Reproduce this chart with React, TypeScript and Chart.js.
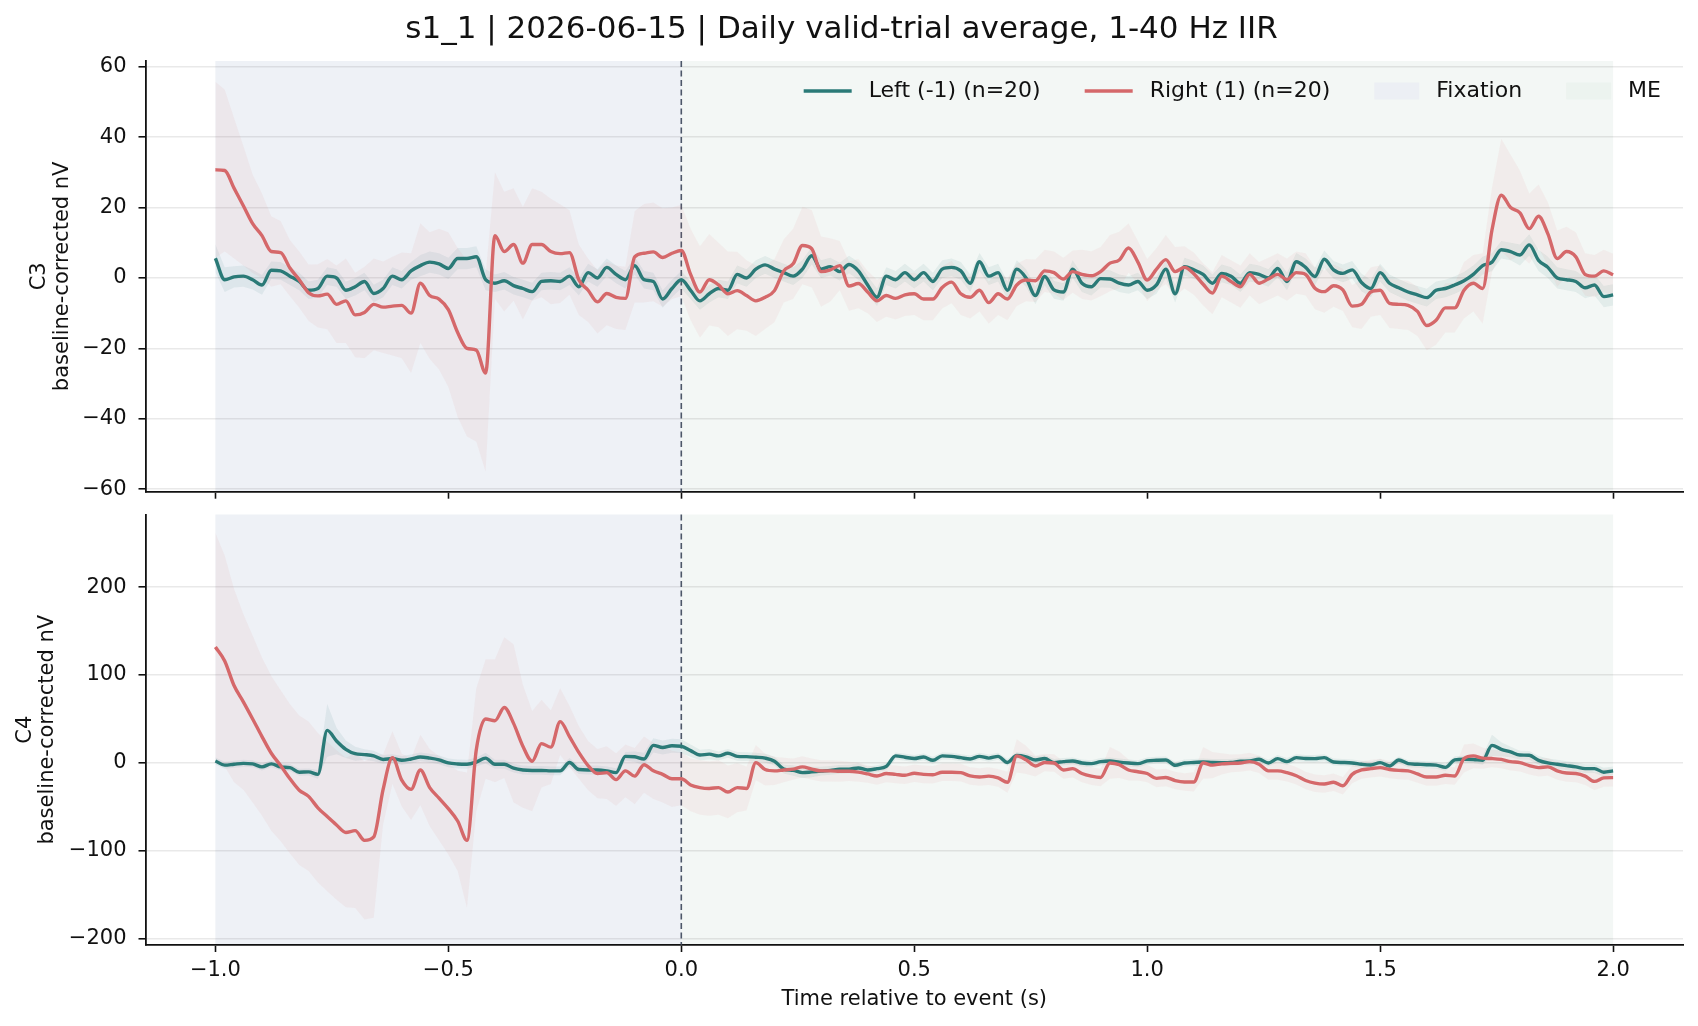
import React, { useEffect, useRef } from 'react';
import { Chart, registerables } from 'chart.js';

Chart.register(...registerables);

const TITLE = 's1_1 | 2026-06-15 | Daily valid-trial average, 1-40 Hz IIR';
const X_LABEL = 'Time relative to event (s)';
const LEFT_LABEL = 'Left (-1) (n=20)';
const RIGHT_LABEL = 'Right (1) (n=20)';
const C3_TITLE = ['C3', 'baseline-corrected nV'];
const C4_TITLE = ['C4', 'baseline-corrected nV'];

const TIMES = [
  -1, -0.98, -0.96, -0.94, -0.92, -0.9, -0.88, -0.86, -0.84, -0.82,
  -0.8, -0.78, -0.76, -0.74, -0.72, -0.7, -0.68, -0.66, -0.64, -0.62,
  -0.6, -0.58, -0.56, -0.54, -0.52, -0.5, -0.48, -0.46, -0.44, -0.42,
  -0.4, -0.38, -0.36, -0.34, -0.32, -0.3, -0.28, -0.26, -0.24, -0.22,
  -0.2, -0.18, -0.16, -0.14, -0.12, -0.1, -0.08, -0.06, -0.04, -0.02,
  0, 0.02, 0.04, 0.06, 0.08, 0.1, 0.12, 0.14, 0.16, 0.18,
  0.2, 0.22, 0.24, 0.26, 0.28, 0.3, 0.32, 0.34, 0.36, 0.38,
  0.4, 0.42, 0.44, 0.46, 0.48, 0.5, 0.52, 0.54, 0.56, 0.58,
  0.6, 0.62, 0.64, 0.66, 0.68, 0.7, 0.72, 0.74, 0.76, 0.78,
  0.8, 0.82, 0.84, 0.86, 0.88, 0.9, 0.92, 0.94, 0.96, 0.98,
  1, 1.02, 1.04, 1.06, 1.08, 1.1, 1.12, 1.14, 1.16, 1.18,
  1.2, 1.22, 1.24, 1.26, 1.28, 1.3, 1.32, 1.34, 1.36, 1.38,
  1.4, 1.42, 1.44, 1.46, 1.48, 1.5, 1.52, 1.54, 1.56, 1.58,
  1.6, 1.62, 1.64, 1.66, 1.68, 1.7, 1.72, 1.74, 1.76, 1.78,
  1.8, 1.82, 1.84, 1.86, 1.88, 1.9, 1.92, 1.94, 1.96, 1.98,
  2,
];

const X_TICKS = [-1, -0.5, 0, 0.5, 1, 1.5, 2];
const C3_TICKS = [-60, -40, -20, 0, 20, 40, 60];
const C4_TICKS = [-200, -100, 0, 100, 200];

// C3 — Left (-1) mean and SEM
const C3_LEFT = [
  5.6, -0.5, 0.3, 0.5, -0.5, -2.0, 2.2, 2.0, 0.5, -1.0,
  -3.5, -3.0, 0.5, 0.0, -3.5, -2.5, -1.0, -4.4, -3.0, 0.5,
  -0.5, 2.0, 3.5, 4.5, 4.0, 2.7, 5.5, 5.5, 6.0, -0.5,
  -1.5, -0.8, -2.2, -3.0, -3.9, -1.0, -0.8, -1.0, 0.5, -2.5,
  1.5, 0.0, 3.0, 1.0, -0.5, 3.5, -0.5, -1.0, -6.0, -3.0,
  -0.5,
  -3.5, -6.5, -4.5, -3.0, -3.5, 1.0, 0.0, 2.5, 3.7, 2.5,
  1.5, 0.5, 2.5, 6.3, 2.5, 3.2, 1.8, 3.8, 2.0, -2.0,
  -5.5, 0.5, -0.5, 1.5, -0.5, 1.5, -1.0, 2.5, 3.0, 2.0,
  -1.5, 4.6, 0.5, 1.5, -3.5, 2.5, 0.0, -5.0, 0.4, -3.4,
  -4.0, 2.5, -1.5, -2.5, -0.2, -0.3, -1.5, -2.0, -1.0, -3.5,
  -2.0, 2.5, -4.5, 3.2, 2.3, 1.0, -1.5, 1.3, 0.5, -1.5,
  1.5, 1.0, 0.0, 2.7, -1.0, 4.6, 3.0, 0.4, 5.3, 2.3,
  1.3, 2.3, -1.3, -3.0, 1.5, -1.5, -2.8, -4.0, -4.8, -5.6,
  -3.5, -3.0, -2.0, -0.8, 1.0, 3.5, 4.5, 8.0, 7.5, 6.5,
  9.4, 5.0, 3.0, 0.0, -0.5, -1.0, -2.8, -2.0, -5.3, -4.8,
];
const C3_LEFT_SEM = [
  4, 3.5, 3, 3, 2.8, 2.8, 2.5, 2.5, 2.5, 2.5,
  2.5, 2.5, 2.5, 2.5, 2.5, 2.5, 2.5, 2.5, 2.5, 2.5,
  2.5, 2.5, 3, 3, 3, 3, 3, 3, 3, 3,
  2.5, 2.5, 2.5, 2.5, 2.5, 2.5, 2.5, 2.5, 2.5, 2.5,
  2.5, 2.5, 2.5, 2.5, 2.5, 2.5, 2.5, 2.5, 2.5, 2.5,
  2.5, 2.5, 2.5, 2.5, 2.5, 2.5, 2.5, 2.5, 2.5, 2.5,
  2.5, 2.5, 2.5, 2.5, 2.5, 2.5, 2.5, 2.5, 2.5, 2.5,
  2.5, 2.5, 2.5, 2.5, 2.5, 2.5, 2.5, 2.5, 2.5, 2.5,
  2.5, 2.5, 2.5, 2.5, 2.5, 2.5, 2.5, 2.5, 2.5, 2.5,
  2.5, 2.5, 2.5, 2.5, 2.5, 2.5, 2.5, 2.5, 2.5, 2.5,
  2.5, 2.5, 2.5, 2.5, 2.5, 2.5, 2.5, 2.5, 2.5, 2.5,
  2.5, 2.5, 2.5, 2.5, 2.5, 2.5, 2.5, 2.5, 2.5, 2.5,
  2.5, 2.5, 2.5, 2.5, 2.5, 2.5, 2.5, 2.5, 2.5, 2.5,
  2.5, 2.5, 2.5, 2.5, 2.5, 2.5, 2.5, 2.5, 2.5, 2.5,
  3, 3, 3, 3, 3, 3, 3, 3, 3, 3,
  3,
];

// C3 — Right (1) mean and SEM
const C3_RIGHT = [
  30.7, 30.5, 25.5, 20.5, 15.4, 12.0, 7.5, 7.2, 2.8, -0.5,
  -4.2, -5.1, -4.6, -7.5, -6.5, -10.5, -9.8, -7.5, -8.3, -8.0,
  -7.8, -10.0, -1.5, -5.0, -6.0, -9.0, -15.5, -20.0, -20.5, -27.0,
  12.0, 7.5, 9.5, 4.2, 9.5, 9.5, 7.5, 6.9, 7.2, -0.5,
  -3.5, -6.8, -4.4, -5.5, -5.8, 6.0, 7.0, 7.4, 5.8, 7.0,
  7.8,
  1.0, -4.0, -0.5, -2.0, -4.5, -3.6, -5.0, -6.5, -5.5, -3.6,
  2.0, 4.0, 9.2, 8.3, 1.8, 2.3, 3.5, -2.3, -1.6, -4.0,
  -6.5, -5.0, -5.8, -4.8, -4.5, -6.0, -6.0, -2.7, -1.2, -4.5,
  -5.5, -3.5, -7.0, -4.5, -6.0, -2.0, -0.6, -0.8, 2.0, 1.5,
  -0.3, 1.8, 1.0, 0.6, 1.8, 4.2, 5.1, 8.5, 4.5, -0.6,
  2.5, 5.2, 1.8, 3.0, 1.2, -1.8, -4.3, 0.5, -1.0, -2.5,
  1.0, -1.5, -0.3, 1.0, -0.5, 1.5, 1.0, -2.9, -3.9, -2.2,
  -3.4, -8.0, -7.5, -4.0, -3.5, -7.2, -7.5, -7.8, -9.5, -13.5,
  -12.0, -8.5, -8.5, -3.5, -1.5, -3.0, 13.6, 23.5, 20.0, 18.5,
  14.0, 17.5, 12.5, 5.5, 7.5, 6.0, 1.0, 0.5, 2.0, 0.9,
];
const C3_RIGHT_SEM = [
  25, 23, 20, 17, 14, 12, 10, 9, 8, 8,
  8, 9, 10, 11, 12, 12, 13, 13, 13, 14,
  15, 17, 17, 18, 20, 22, 24, 25, 26, 28,
  18, 17, 16, 16, 16, 15, 15, 14, 12, 10,
  9, 9, 9, 9, 9, 13, 14, 14, 14, 13,
  13, 13, 13, 13, 12, 12, 11, 10, 10, 9,
  9, 9, 10, 11, 11, 10, 9, 7, 7, 7,
  6, 6, 6, 6, 6, 6, 6, 6, 6, 6,
  6, 6, 6, 6, 6, 6, 6, 6, 6, 6,
  6, 6, 6, 7, 7, 7, 8, 8, 7, 6,
  6, 6, 7, 7, 6, 6, 6, 6, 6, 6,
  6, 6, 6, 6, 6, 6, 6, 6, 6, 6,
  6, 6, 6, 7, 7, 7, 7, 7, 7, 7,
  7, 7, 7, 7, 8, 8, 10, 12, 16, 15,
  12, 10, 9, 9, 8, 7, 7, 6, 6, 6,
  6,
];

// C4 — Left (-1) mean and SEM
const C4_LEFT = [
  2.3, -2.5, -1.5, -0.5, -1.0, -4.5, -1.0, -4.5, -5.3, -10.5,
  -10.2, -13.0, 37.0, 25.0, 15.5, 10.5, 9.5, 8.0, 4.0, 5.0,
  3.0, 4.5, 6.8, 5.5, 3.5, 0.0, -1.2, -1.5, 1.0, 5.5,
  -1.5, -1.5, -6.0, -8.0, -8.5, -8.5, -9.0, -9.0, 0.5, -7.5,
  -8.0, -8.0, -9.0, -11.0, 7.5, 7.0, 4.5, 20.0, 17.5, 19.5,
  19.0,
  14.0, 9.0, 10.0, 8.0, 11.0, 7.5, 7.2, 6.5, 5.5, 2.0,
  -7.0, -8.5, -11.0, -10.2, -9.3, -8.5, -7.2, -7.0, -5.7, -8.0,
  -6.5, -4.0, 8.0, 6.5, 5.0, 6.8, 3.0, 8.0, 7.5, 6.0,
  4.5, 7.5, 5.5, 7.5, 0.5, 8.5, 7.0, 3.4, 5.0, 0.4,
  1.5, 2.3, 0.0, -0.8, 1.5, 2.3, 1.0, 0.0, -0.8, 2.3,
  3.0, 3.4, -2.7, 0.0, 0.5, 1.0, 0.5, 0.4, 0.6, 2.0,
  2.3, 4.2, 0.0, 4.9, 1.5, 6.0, 5.0, 4.9, 6.0, 1.1,
  0.5, 0.0, -1.5, -2.3, 0.4, -3.4, 3.4, -0.8, -1.5, -2.0,
  -2.5, -5.0, 3.5, 4.2, 4.0, 3.0, 20.0, 15.5, 12.5, 9.0,
  8.7, 3.0, 0.0, -1.5, -3.0, -4.5, -6.4, -6.4, -10.5, -9.0,
];
const C4_LEFT_SEM = [
  4, 4, 4, 4, 4, 4, 4, 4, 4, 4,
  4, 5, 30, 15, 10, 8, 6, 6, 5, 5,
  5, 5, 5, 5, 5, 5, 5, 5, 5, 6,
  5, 5, 5, 5, 5, 5, 5, 5, 5, 5,
  5, 5, 5, 5, 5, 6, 7, 8, 8, 8,
  8, 7, 6, 6, 5, 5, 5, 5, 5, 5,
  5, 5, 6, 6, 6, 5, 5, 5, 5, 5,
  4, 4, 4, 4, 4, 4, 4, 4, 4, 4,
  4, 4, 4, 4, 4, 4, 4, 4, 4, 4,
  4, 4, 4, 4, 4, 4, 4, 4, 4, 4,
  4, 4, 4, 4, 4, 4, 4, 4, 4, 4,
  4, 4, 4, 4, 4, 4, 4, 4, 4, 4,
  4, 4, 4, 4, 4, 4, 4, 4, 4, 4,
  4, 4, 4, 4, 4, 4, 5, 12, 8, 6,
  5, 5, 5, 5, 5, 5, 5, 5, 5, 5,
  5,
];

// C4 — Right (1) mean and SEM
const C4_RIGHT = [
  131.8, 116, 88, 69.5, 50, 30, 11, -3, -18, -31,
  -38, -51, -61, -70.5, -79, -77, -88, -84, -30, 6,
  -19.5, -30, -8, -28, -40, -52, -66, -88, 15, 50,
  48, 63, 45, 19, 2, 22, 18, 47, 30, 12,
  -3, -12, -11, -19, -9, -15, -2, -9, -13, -18,
  -18,
  -25, -28, -29, -28, -33, -28, -29, 0.4, -7.5, -9,
  -8, -7, -4.5, -7, -9, -9, -9.5, -9.5, -10.5, -12.5,
  -14.8, -12, -13, -14, -11.7, -13, -13.5, -10.5, -10.5, -11,
  -14.8, -16, -15, -17, -22, 8, 3.5, -3.4, 0.5, 0,
  -8, -6.5, -12, -15, -16.5, 0, -2, -8, -10, -12,
  -17.5, -16.5, -20, -21.6, -21.6, 0, -2.5, -1, -0.5, 0,
  1.5, -1.5, -9, -9, -11, -14.5, -20, -23, -24, -22,
  -26, -13, -8, -6.5, -5.3, -7.5, -8.5, -9, -12.5, -16,
  -16, -14, -14.8, 5, 8, 5.5, 5, 4, 1.5, 0.4,
  -3, -5.3, -4.5, -9, -11.5, -12, -15, -21, -17, -16.7,
];
const C4_RIGHT_SEM = [
  130, 120, 110, 100, 95, 90, 88, 86, 85, 85,
  85, 85, 85, 85, 85, 88, 90, 92, 40, 30,
  30, 35, 40, 44, 48, 52, 57, 77, 70, 68,
  70, 80, 90, 70, 57, 50, 42, 38, 35, 30,
  28, 28, 30, 30, 30, 32, 32, 32, 32, 32,
  30, 30, 31, 31, 31, 30, 28, 25, 20, 18,
  16, 14, 12, 12, 12, 12, 12, 12, 11, 11,
  10, 10, 10, 10, 10, 10, 10, 10, 10, 10,
  10, 10, 10, 10, 10, 12, 19, 16, 12, 10,
  10, 10, 10, 10, 10, 10, 18, 15, 12, 10,
  10, 10, 10, 10, 10, 11, 18, 15, 12, 10,
  10, 10, 10, 10, 10, 10, 10, 10, 10, 10,
  10, 10, 10, 10, 10, 10, 10, 10, 10, 10,
  10, 10, 10, 10, 16, 14, 12, 10, 10, 10,
  10, 10, 10, 10, 10, 10, 10, 10, 10, 10,
  10,
];

const WINDOWS = [
  { label: 'Fixation', start: -1, end: 0, color: 'rgba(100,130,170,0.11)', legendColor: '#eceff4' },
  { label: 'ME', start: 0, end: 2, color: 'rgba(120,170,140,0.09)', legendColor: '#ecf3ef' },
];
const EVENT_T = 0;

const X_RANGE = [-1.15, 2.15];
const C3_RANGE = [-60.7, 61.6];
const C4_RANGE = [-207, 282.5];

const TEAL = '#2a7a77';
const RED = '#d5686a';
const TEAL_BAND = 'rgba(42,122,119,0.09)';
const RED_BAND = 'rgba(213,104,106,0.07)';
const INK = '#111111';
const FONT = "'DejaVu Sans', sans-serif";
const FS = 21;
const LEGEND_FS = 22;
const LINE_W = 3.4;

const fmtSigned = (v: number, d: number) => (v < 0 ? '\u2212' : '') + Math.abs(v).toFixed(d);

const shadePlugin = {
  id: 'shadeWindows',
  beforeDraw(chart: any) {
    const { ctx, chartArea: a, scales } = chart;
    const xs = scales.x;
    ctx.save();
    WINDOWS.forEach((w) => {
      const x0 = xs.getPixelForValue(w.start);
      const x1 = xs.getPixelForValue(w.end);
      ctx.fillStyle = w.color;
      ctx.fillRect(x0, a.top, x1 - x0, a.bottom - a.top);
    });
    ctx.restore();
  },
  beforeDatasetsDraw(chart: any) {
    const { ctx, chartArea: a, scales } = chart;
    const px = scales.x.getPixelForValue(EVENT_T);
    ctx.save();
    ctx.strokeStyle = 'rgba(60,70,90,0.9)';
    ctx.lineWidth = 1.6;
    ctx.setLineDash([6, 3.5]);
    ctx.beginPath();
    ctx.moveTo(px, a.top);
    ctx.lineTo(px, a.bottom);
    ctx.stroke();
    ctx.restore();
  },
};

const legendPlugin = {
  id: 'mplLegend',
  afterDraw(chart: any, _args: any, opts: any) {
    if (!opts || !opts.show) return;
    const { ctx, chartArea: a } = chart;
    const items = [
      { label: LEFT_LABEL, color: TEAL, kind: 'line' },
      { label: RIGHT_LABEL, color: RED, kind: 'line' },
      ...WINDOWS.map((w) => ({ label: w.label, color: w.legendColor, kind: 'patch' })),
    ];
    ctx.save();
    ctx.font = `${LEGEND_FS}px ${FONT}`;
    ctx.textBaseline = 'middle';
    ctx.textAlign = 'left';
    const handleLen = (k: string) => (k === 'line' ? 48 : 45);
    const gap = 17;
    const col = 44;
    const widths = items.map((it) => handleLen(it.kind) + gap + ctx.measureText(it.label).width);
    const total = widths.reduce((s, w) => s + w, 0) + col * (items.length - 1);
    let x = a.right - 22 - total;
    const y = a.top + 30;
    items.forEach((it, i) => {
      const hl = handleLen(it.kind);
      if (it.kind === 'line') {
        ctx.strokeStyle = it.color;
        ctx.lineWidth = LINE_W;
        ctx.beginPath();
        ctx.moveTo(x, y);
        ctx.lineTo(x + hl, y);
        ctx.stroke();
      } else {
        ctx.fillStyle = it.color;
        ctx.fillRect(x, y - 8.5, hl, 17);
      }
      ctx.fillStyle = INK;
      ctx.fillText(it.label, x + hl + gap, y);
      x += widths[i] + col;
    });
    ctx.restore();
  },
};

function buildDatasets(left: number[], leftSem: number[], right: number[], rightSem: number[]) {
  const pts = (vals: number[]) => TIMES.map((t, i) => ({ x: t, y: vals[i] }));
  const lo = (m: number[], s: number[]) => m.map((v, i) => v - s[i]);
  const hi = (m: number[], s: number[]) => m.map((v, i) => v + s[i]);
  const band = (vals: number[], order: number, fill: any, color: string) => ({
    data: pts(vals),
    borderColor: 'rgba(0,0,0,0)',
    borderWidth: 0,
    pointRadius: 0,
    fill,
    backgroundColor: color,
    order,
    tension: 0,
  });
  const line = (label: string, vals: number[], color: string, order: number) => ({
    label,
    data: pts(vals),
    borderColor: color,
    backgroundColor: color,
    borderWidth: LINE_W,
    pointRadius: 0,
    fill: false,
    order,
    cubicInterpolationMode: 'monotone',
  });
  return [
    band(lo(left, leftSem), 5, false, 'rgba(0,0,0,0)'),
    band(hi(left, leftSem), 5, 0, TEAL_BAND),
    band(lo(right, rightSem), 4, false, 'rgba(0,0,0,0)'),
    band(hi(right, rightSem), 4, 2, RED_BAND),
    line(LEFT_LABEL, left, TEAL, 1),
    line(RIGHT_LABEL, right, RED, 0),
  ];
}

function yScale(range: number[], ticks: number[], title: string[], titlePadTop: number) {
  return {
    type: 'linear',
    min: range[0],
    max: range[1],
    afterBuildTicks: (s: any) => {
      s.ticks = ticks.map((v) => ({ value: v }));
    },
    afterFit: (s: any) => {
      s.width = 145.5;
      s.paddingTop = 0;
      s.paddingBottom = 0;
    },
    ticks: {
      font: { family: FONT, size: FS },
      color: INK,
      padding: 12,
      callback: (v: any) => fmtSigned(Number(v), 0),
    },
    grid: {
      color: 'rgba(0,0,0,0.085)',
      lineWidth: 1.6,
      drawTicks: true,
      tickLength: 7,
      tickWidth: 1.6,
      tickColor: INK,
    },
    border: { display: true, color: INK, width: 1.8 },
    title: {
      display: true,
      text: title,
      color: INK,
      font: { family: FONT, size: FS, lineHeight: 1.07 },
      padding: { top: titlePadTop, bottom: 0 },
    },
  };
}

function xScale(showLabels: boolean, height: number) {
  return {
    type: 'linear',
    min: X_RANGE[0],
    max: X_RANGE[1],
    afterBuildTicks: (s: any) => {
      s.ticks = X_TICKS.map((v) => ({ value: v }));
    },
    afterFit: (s: any) => {
      s.height = height;
      s.paddingLeft = 0;
      s.paddingRight = 0;
    },
    ticks: {
      display: showLabels,
      font: { family: FONT, size: FS },
      color: INK,
      padding: 5.5,
      maxRotation: 0,
      autoSkip: false,
      callback: (v: any) => fmtSigned(Number(v), 1),
    },
    grid: {
      display: true,
      drawOnChartArea: false,
      drawTicks: true,
      tickLength: 7,
      tickWidth: 1.6,
      tickColor: INK,
      color: INK,
    },
    border: { display: true, color: INK, width: 1.8 },
    title: {
      display: showLabels,
      text: X_LABEL,
      color: INK,
      font: { family: FONT, size: FS, lineHeight: 1.2 },
      padding: { top: 0, bottom: 13.5 },
    },
  };
}

export default function App() {
  const topRef = useRef<HTMLCanvasElement | null>(null);
  const botRef = useRef<HTMLCanvasElement | null>(null);

  useEffect(() => {
    if (!topRef.current || !botRef.current) return;
    const top = new Chart(topRef.current, {
      type: 'line',
      data: { datasets: buildDatasets(C3_LEFT, C3_LEFT_SEM, C3_RIGHT, C3_RIGHT_SEM) as any },
      options: {
        animation: false,
        responsive: false,
        maintainAspectRatio: false,
        devicePixelRatio: 1,
        parsing: false,
        layout: { padding: { left: 0, right: 15, top: 0, bottom: 0 } },
        plugins: {
          legend: { display: false },
          tooltip: { enabled: false },
          title: {
            display: true,
            text: TITLE,
            color: INK,
            font: { family: FONT, size: 31, weight: 'normal', lineHeight: 1.2 },
            padding: { top: 11.5, bottom: 12.3 },
          },
          mplLegend: { show: true },
        } as any,
        scales: {
          x: xScale(false, 28.3) as any,
          y: yScale(C3_RANGE, C3_TICKS, C3_TITLE, 28.5) as any,
        },
      },
      plugins: [shadePlugin, legendPlugin],
    });
    const bot = new Chart(botRef.current, {
      type: 'line',
      data: { datasets: buildDatasets(C4_LEFT, C4_LEFT_SEM, C4_RIGHT, C4_RIGHT_SEM) as any },
      options: {
        animation: false,
        responsive: false,
        maintainAspectRatio: false,
        devicePixelRatio: 1,
        parsing: false,
        layout: { padding: { left: 0, right: 15, top: 11.5, bottom: 0 } },
        plugins: {
          legend: { display: false },
          tooltip: { enabled: false },
          title: { display: false },
          mplLegend: { show: false },
        } as any,
        scales: {
          x: xScale(true, 81) as any,
          y: yScale(C4_RANGE, C4_TICKS, C4_TITLE, 14) as any,
        },
      },
      plugins: [shadePlugin, legendPlugin],
    });
    return () => {
      top.destroy();
      bot.destroy();
    };
  }, []);

  return (
    <div style={{ position: 'absolute', left: 0, top: 0, width: 1698, height: 1026, background: '#ffffff', overflow: 'hidden' }}>
      <canvas
        ref={topRef}
        width={1698}
        height={520}
        style={{ position: 'absolute', left: 0, top: 0, width: 1698, height: 520 }}
      />
      <canvas
        ref={botRef}
        width={1698}
        height={523}
        style={{ position: 'absolute', left: 0, top: 503, width: 1698, height: 523 }}
      />
    </div>
  );
}
